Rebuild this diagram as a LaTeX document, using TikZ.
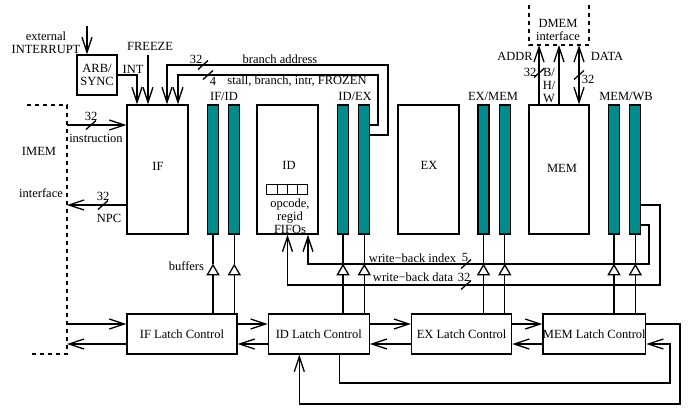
\documentclass[tikz,border=0pt]{standalone}
\usepackage{fontspec}
\setmainfont{Liberation Serif}
\usepackage{tikz}
\usetikzlibrary{arrows.meta}
\usetikzlibrary{positioning}
\usetikzlibrary{shapes.geometric}

\definecolor{latchteal}{RGB}{0,140,140}

\begin{document}
\begin{tikzpicture}[x=1pt,y=-1pt,>={Straight Barb[length=15pt,width=10pt]},
  line width=1.3pt,font=\fontsize{12.5}{13}\selectfont,
  stage/.style={draw,minimum width=61pt,minimum height=129pt,inner sep=0pt},
  latch/.style={draw,fill=latchteal,minimum width=11pt,minimum height=129pt,inner sep=0pt},
  ctrl/.style={draw,minimum height=40pt,inner sep=0pt},
  buffer/.style={draw,fill=white,regular polygon,regular polygon sides=3,minimum size=13pt,inner sep=0pt},
  fifocell/.style={draw,minimum width=10.25pt,minimum height=10pt,inner sep=0pt,line width=1pt},
  busmark/.pic={\draw (-5pt,-4.5pt) -- (5pt,4.5pt);}]

  \useasboundingbox (0,0) rectangle (696,410);

  % pipeline stages
  \node[stage] (IF) at (157.5,169.5) {};
  \node[stage] (ID) at (287.5,169.5) {};
  \node[stage] (EX) at (428.5,169.5) {};
  \node[stage,minimum width=60pt] (MEM) at (559,169.5) {};
  \node (iflbl) at (158,166) {IF};
  \node (idlbl) at (289,165) {ID};
  \node (exlbl) at (429,165) {EX};
  \node (memlbl) at (562,168) {MEM};

  % latches
  \node[latch] (ifid1) at (213,169.5) {};
  \node[latch] (ifid2) [right=9pt of ifid1] {};
  \node[latch] (idex1) at (343,169.5) {};
  \node[latch] (idex2) [right=9pt of idex1] {};
  \node[latch] (exmem1) at (483.5,169.5) {};
  \node[latch] (exmem2) [right=9pt of exmem1] {};
  \node[latch] (memwb1) at (614,169.5) {};
  \node[latch] (memwb2) [right=9pt of memwb1] {};
  \node (ifidlbl) at (224,96) {IF/ID};
  \node (idexlbl) at (355,96) {ID/EX};
  \node (exmemlbl) at (493,96) {EX/MEM};
  \node (memwblbl) at (626,96) {MEM/WB};

  % regid FIFOs inside ID
  \foreach \i in {0,...,3}
    \node[fifocell] (fifo\i) at (272.1+\i*10.25,189) {};
  \node[align=center] (fifolbl) at (290,216) {opcode,\\regid\\FIFOs};

  % latch control
  \node[ctrl,minimum width=110pt] (iflc) at (182,334) {IF Latch Control};
  \node[ctrl,minimum width=101pt] (idlc) [right=30pt of iflc] {ID Latch Control};
  \node[ctrl,minimum width=100pt] (exlc) [right=41pt of idlc] {EX Latch Control};
  \node[ctrl,minimum width=101pt] (memlc) [right=30pt of exlc] {MEM Latch Control};

  % interrupt and freeze
  \node[draw,minimum size=40pt,inner sep=0pt,align=center] (arb) at (97,75) {ARB/\\SYNC};
  \node[align=center] (extlbl) at (46,43) {external\\INTERRUPT};
  \coordinate (extin) at (87,26);
  \draw[->] (extin) -- (extin |- arb.north);
  \node (intlbl) at (133,69) {INT};
  \draw[->] (arb.east) -| ([xshift=-20.5pt]IF.north);
  \node (freeze) at (150,46) {FREEZE};
  \coordinate (frz) at (148,55);
  \draw[->] (frz) -- (frz |- IF.north);

  % feedback from ID/EX
  \draw[->] ([yshift=34.5pt]idex2.east) -| (388,65) -| ([xshift=9.5pt]IF.north);
  \draw[->] ([yshift=44.5pt]idex2.east) -| (378,75) -| ([xshift=20.5pt]IF.north);
  \pic at (203,65) {busmark};
  \pic at (208,75) {busmark};
  \node (bra32) at (196,59) {32};
  \node (stall4) at (213,81) {4};
  \node (bralbl) at (280,59) {branch address};
  \node (stalllbl) at (297,81) {stall, branch, intr, FROZEN};

  % IMEM interface
  \coordinate (imemtop) at (67,105);
  \coordinate (imembot) at (67,354);
  \draw[dash pattern=on 4pt off 4pt] (27,105) -- (imemtop) -- (imembot) -- (32,354);
  \node (imemlbl) at (39,151) {IMEM};
  \node (imemif) at (41,193) {interface};
  \draw[->] (imemtop |- 0,125) -- (IF.west |- 0,125);
  \pic at (91,125) {busmark};
  \node (ins32) at (91,116) {32};
  \node (inslbl) at (96,138) {instruction};
  \draw[->] (IF.west |- 0,205) -- (imemtop |- 0,205);
  \pic at (103,205) {busmark};
  \node (npc32) at (103,196) {32};
  \node (npclbl) at (109,218) {NPC};
  \draw[->] (imembot |- 0,324) -- (iflc.west |- 0,324);
  \draw[->] (iflc.west |- 0,344) -- (imembot |- 0,344);

  % DMEM interface
  \coordinate (dmemsw) at (529,45);
  \coordinate (dmemse) at (589,45);
  \draw[dash pattern=on 4pt off 4pt] (529,5) -- (dmemsw) -- (dmemse) -- (589,5);
  \node (dmemlbl) at (558,23) {DMEM};
  \node (dmemif) at (558,36) {interface};
  \coordinate (addr) at (539,45);
  \coordinate (bhw) at (559,45);
  \coordinate (data) at (579,45);
  \draw[->] (MEM.north -| addr) -- (addr);
  \draw[->] (MEM.north -| bhw) -- (bhw);
  \draw[<->] (MEM.north -| data) -- (data);
  \pic at (539,73) {busmark};
  \pic at (579,75) {busmark};
  \node (addrlbl) at (515,56) {ADDR};
  \node (addr32) at (530,72) {32};
  \node[align=center] (bhwlbl) at (549,85) {B/\\H/\\W};
  \node (datalbl) at (607,56) {DATA};
  \node (data32) at (588,79) {32};

  % write-back
  \draw[->] ([yshift=-55.5pt]memwb2.east) -| (649,264) -| ([xshift=20.5pt]ID.south);
  \draw[->] ([yshift=-35.5pt]memwb2.east) -| (660,285) -| (ID.south);
  \pic at (466,264) {busmark};
  \pic at (466,285) {busmark};
  \node[anchor=west] (wbilbl) at (365,258) {write−back index};
  \node (wbi5) at (465,257) {5};
  \node[anchor=west] (wbdlbl) at (369,277) {write−back data};
  \node (wbd32) at (464,277) {32};

  % buffers between latches and latch control
  \foreach \l in {ifid1,ifid2,idex1,idex2,exmem1,exmem2,memwb1,memwb2}{
    \node[buffer] (buf\l) at (\l |- 0,271.5) {};
    \draw (\l.south) -- (buf\l.north);
    \draw (buf\l.south) -- (buf\l.south |- iflc.north);
  }
  \node[anchor=east] (buflbl) at (208,266) {buffers};

  % latch control handshakes
  \draw[->] ([yshift=10pt]iflc.east) -- ([yshift=10pt]idlc.west);
  \draw[->] ([yshift=-10pt]idlc.west) -- ([yshift=-10pt]iflc.east);
  \draw[->] ([yshift=10pt]idlc.east) -- ([yshift=10pt]exlc.west);
  \draw[->] ([yshift=-10pt]exlc.west) -- ([yshift=-10pt]idlc.east);
  \draw[->] ([yshift=10pt]exlc.east) -- ([yshift=10pt]memlc.west);
  \draw[->] ([yshift=-10pt]memlc.west) -- ([yshift=-10pt]exlc.east);
  \draw[->] ([xshift=20.5pt]idlc.south) |- (670,383) |- ([yshift=-10pt]memlc.east);
  \draw[->] ([yshift=10pt]memlc.east) -| (680,404) -| ([xshift=-19.5pt]idlc.south);
\end{tikzpicture}
\end{document}
